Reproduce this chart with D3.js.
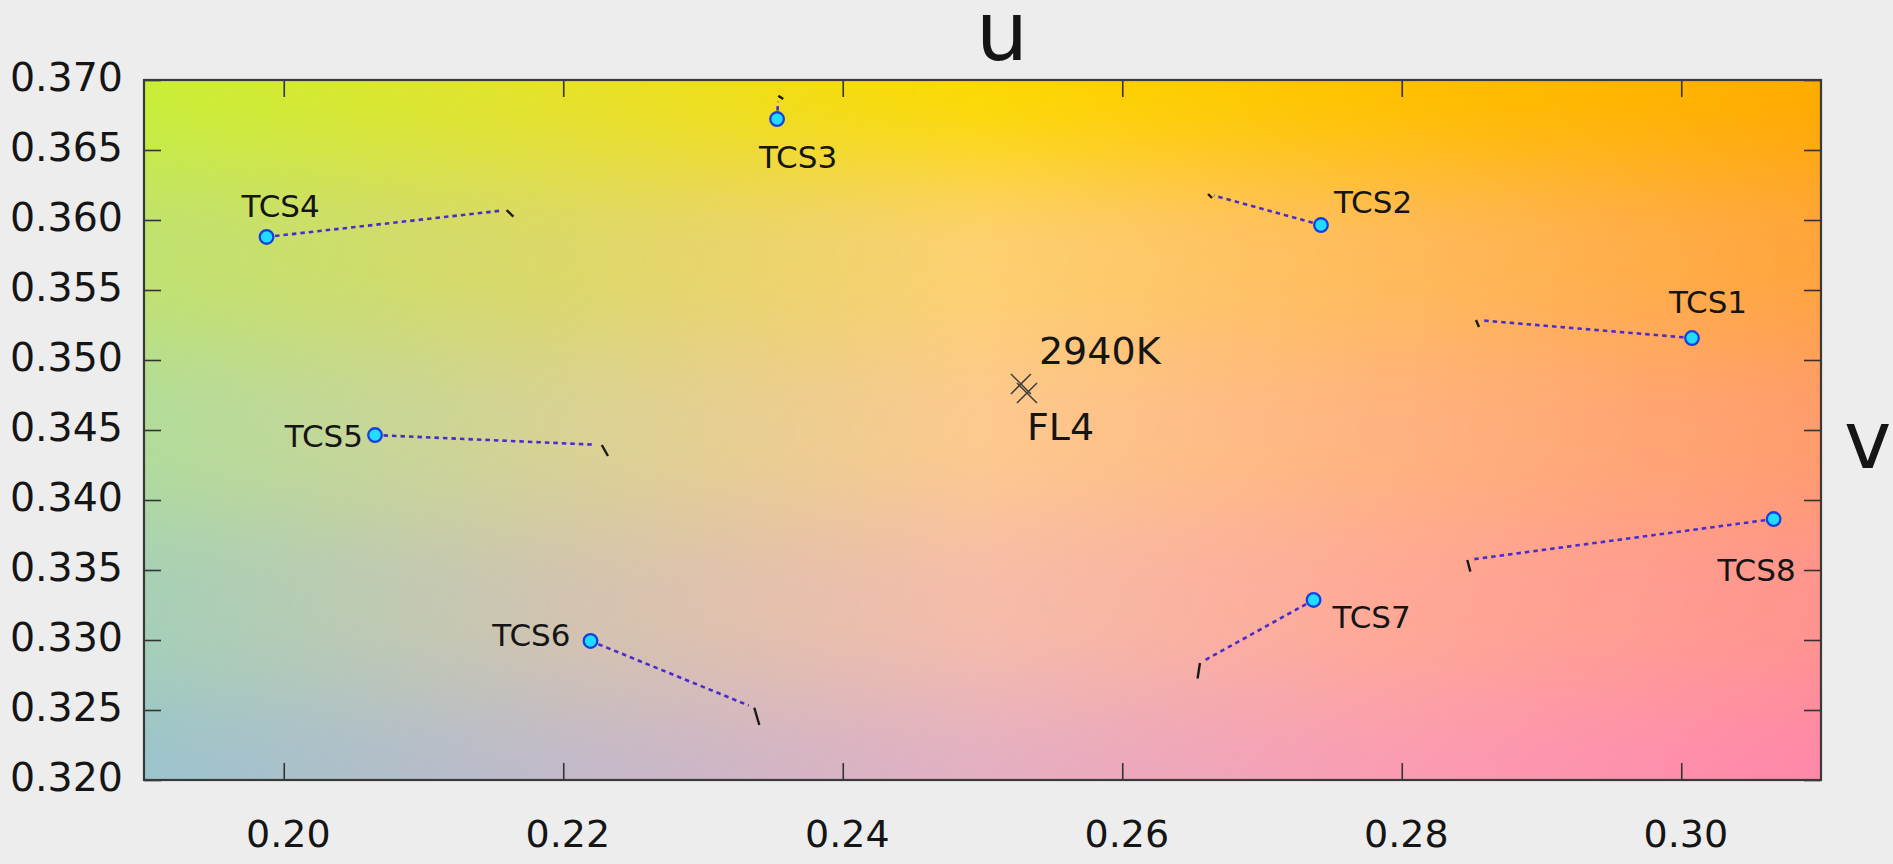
<!DOCTYPE html>
<html><head><meta charset="utf-8">
<script src="https://cdn.jsdelivr.net/npm/d3@7"></script>
<style>
html,body{margin:0;padding:0;background:#ededed;overflow:hidden;}
svg{display:block;}
text{font-family:"DejaVu Sans","Noto Sans",sans-serif;fill:#151515;}
</style></head><body>
<svg id="chart" width="1893" height="864"></svg>
<script>
// ---------- DATA ----------
const tcsNames = ["TCS1","TCS2","TCS3","TCS4","TCS5","TCS6","TCS7","TCS8"];
// test-source chromaticities (blue circles)
const testU = [0.30077, 0.27422, 0.23530, 0.19877, 0.20653, 0.22195, 0.27369, 0.30661];
const testV = [0.35157, 0.35964, 0.36721, 0.35879, 0.34464, 0.32993, 0.33286, 0.33864];
// reference chromaticities (end of dotted line)
const refU = [0.28531, 0.26614, 0.23539, 0.21595, 0.22276, 0.23367, 0.26556, 0.28469];
const refV = [0.35286, 0.36186, 0.36888, 0.36071, 0.34393, 0.32516, 0.32836, 0.33571];
// end of the short black mark at each reference point
const markU = [0.28553, 0.26642, 0.23574, 0.21643, 0.22320, 0.23403, 0.26539, 0.28491];
const markV = [0.35236, 0.36157, 0.36864, 0.36024, 0.34314, 0.32393, 0.32725, 0.33488];
// white points
const whiteNames = ["2940K", "FL4"];
const whiteU = [0.25275, 0.25318];
const whiteV = [0.34829, 0.34764];
// axes
const xDomain = [0.19, 0.31];
const yDomain = [0.320, 0.370];
const xTicks = [0.20, 0.22, 0.24, 0.26, 0.28, 0.30];
const xTickLabels = ["0.20","0.22","0.24","0.26","0.28","0.30"];
const yTicks = [0.320, 0.325, 0.330, 0.335, 0.340, 0.345, 0.350, 0.355, 0.360, 0.365, 0.370];
const yTickLabels = ["0.320","0.325","0.330","0.335","0.340","0.345","0.350","0.355","0.360","0.365","0.370"];
const xAxisTitle = "u";
const yAxisTitle = "v";

// ---------- LAYOUT / STYLE ----------
const M = {left:144, right:1821, top:80, bottom:780};
const W = M.right - M.left, H = M.bottom - M.top;
// label placement per TCS: [dx, dy, anchor]
const tcsLabelPlace = [[16,-25,"middle"],[13,-12,"start"],[21,49,"middle"],[-25,-20,"start"],
                       [-12,12,"end"],[-20,5,"end"],[19,28,"start"],[22,62,"end"]];
const whiteLabelPlace = [[18,-20,"start"],[0,47,"start"]];
// background colour grid (rows top->bottom, cols left->right)
const bgGrid = [
  ["#c9ee38","#e6e22a","#fcd904","#ffc000","#ffab00"],
  ["#c0e270","#dcd868","#fdd070","#ffba5a","#ffa43c"],
  ["#b2dc9a","#d8d294","#fdc98e","#ffb27e","#ff9c6c"],
  ["#a6d0b6","#d2c4b0","#f6bcaa","#ffa896","#ff948e"],
  ["#9cc4cc","#c2bac8","#e4b0c2","#fb9cb2","#ff88a8"]
];

const svg = d3.select("#chart");
const x = d3.scaleLinear().domain(xDomain).range([M.left, M.right]);
const y = d3.scaleLinear().domain(yDomain).range([M.bottom, M.top]);

// background gradient image
(function(){
  const cv = document.createElement("canvas");
  cv.width = W; cv.height = H;
  const ctx = cv.getContext("2d");
  const img = ctx.createImageData(W, H);
  const g = bgGrid.map(r => r.map(c => { const k = d3.rgb(c); return [k.r,k.g,k.b]; }));
  const nr = g.length - 1, nc = g[0].length - 1;
  const sm = t => t*t*(3-2*t);
  for (let j=0;j<H;j++){
    const fy = j/(H-1)*nr; let r0 = Math.min(Math.floor(fy), nr-1); const ty = sm(fy - r0);
    for (let i=0;i<W;i++){
      const fx = i/(W-1)*nc; let c0 = Math.min(Math.floor(fx), nc-1); const tx = (fx - c0);
      const a=g[r0][c0], b=g[r0][c0+1], c=g[r0+1][c0], d=g[r0+1][c0+1];
      const p=(j*W+i)*4;
      for (let k=0;k<3;k++){
        const top=a[k]+(b[k]-a[k])*tx, bot=c[k]+(d[k]-c[k])*tx;
        img.data[p+k]=top+(bot-top)*ty;
      }
      img.data[p+3]=255;
    }
  }
  ctx.putImageData(img,0,0);
  svg.append("image").attr("x",M.left).attr("y",M.top).attr("width",W).attr("height",H)
     .attr("preserveAspectRatio","none").attr("href",cv.toDataURL());
})();

// ticks on all four sides (inward)
const tl = 17;
const axB = svg.append("g").attr("transform",`translate(0,${M.bottom})`)
  .call(d3.axisBottom(x).tickValues(xTicks).tickSizeInner(-tl).tickSizeOuter(0).tickFormat((d,i)=>xTickLabels[i]));
const axT = svg.append("g").attr("transform",`translate(0,${M.top})`)
  .call(d3.axisTop(x).tickValues(xTicks).tickSizeInner(-tl).tickSizeOuter(0).tickFormat(""));
const axL = svg.append("g").attr("transform",`translate(${M.left},0)`)
  .call(d3.axisLeft(y).tickValues(yTicks).tickSizeInner(-tl).tickSizeOuter(0).tickFormat((d,i)=>yTickLabels[i]));
const axR = svg.append("g").attr("transform",`translate(${M.right},0)`)
  .call(d3.axisRight(y).tickValues(yTicks).tickSizeInner(-tl).tickSizeOuter(0).tickFormat(""));
[axB,axT,axL,axR].forEach(a=>{
  a.select(".domain").remove();
  a.selectAll(".tick line").attr("stroke","#333").attr("stroke-width",1.6);
  a.selectAll("text").attr("font-family",null);
});
axB.selectAll(".tick text").attr("font-size",38).attr("dy",null).attr("y",67).attr("dx",4).attr("fill","#151515");
axL.selectAll(".tick text").attr("font-size",39.5).attr("dy",null).attr("x",-21).attr("y",10).attr("fill","#151515");

// frame
svg.append("rect").attr("x",M.left).attr("y",M.top).attr("width",W).attr("height",H)
  .attr("fill","none").attr("stroke","#3a3a3a").attr("stroke-width",2.2);

// axis titles
svg.append("text").attr("x",1002).attr("y",60).attr("text-anchor","middle").attr("font-size",82).text(xAxisTitle);
svg.append("text").attr("x",1844).attr("y",468).attr("text-anchor","start").attr("font-size",80).text(yAxisTitle);

// TCS shifts
const idx = d3.range(tcsNames.length);
const gap = 6;
function shortEnd(i){
  const x1=x(testU[i]), y1=y(testV[i]), x2=x(refU[i]), y2=y(refV[i]);
  const L=Math.hypot(x2-x1,y2-y1), f=Math.max(0,(L-gap)/L);
  return [x1+(x2-x1)*f, y1+(y2-y1)*f];
}
const gT = svg.append("g");
gT.selectAll("line.shift").data(idx).join("line").attr("class","shift")
  .attr("x1",i=>x(testU[i])).attr("y1",i=>y(testV[i]))
  .attr("x2",i=>shortEnd(i)[0]).attr("y2",i=>shortEnd(i)[1])
  .attr("stroke","#4a2ccc").attr("stroke-width",2.6).attr("stroke-dasharray","4.5,4");
gT.selectAll("line.mark").data(idx).join("line").attr("class","mark")
  .attr("x1",i=>x(refU[i])).attr("y1",i=>y(refV[i]))
  .attr("x2",i=>x(markU[i])).attr("y2",i=>y(markV[i]))
  .attr("stroke","#1a1a1a").attr("stroke-width",2.4);
gT.selectAll("circle").data(idx).join("circle")
  .attr("cx",i=>x(testU[i])).attr("cy",i=>y(testV[i])).attr("r",6.8)
  .attr("fill","#22dcff").attr("stroke","#1540e0").attr("stroke-width",2.3);
gT.selectAll("text").data(idx).join("text")
  .attr("x",i=>x(testU[i])+tcsLabelPlace[i][0]).attr("y",i=>y(testV[i])+tcsLabelPlace[i][1])
  .attr("text-anchor",i=>tcsLabelPlace[i][2]).attr("font-size",31).text(i=>tcsNames[i]);

// white points
const wIdx = d3.range(whiteNames.length);
const gW = svg.append("g");
gW.selectAll("path").data(wIdx).join("path")
  .attr("transform",i=>`translate(${x(whiteU[i])},${y(whiteV[i])})`)
  .attr("d","M-10,-10L10,10M-10,10L10,-10").attr("stroke","#3c3c3c").attr("stroke-width",1.5).attr("fill","none");
gW.selectAll("text").data(wIdx).join("text")
  .attr("x",i=>x(whiteU[i])+whiteLabelPlace[i][0]).attr("y",i=>y(whiteV[i])+whiteLabelPlace[i][1])
  .attr("text-anchor",i=>whiteLabelPlace[i][2]).attr("font-size",38).text(i=>whiteNames[i]);
</script>
</body></html>
